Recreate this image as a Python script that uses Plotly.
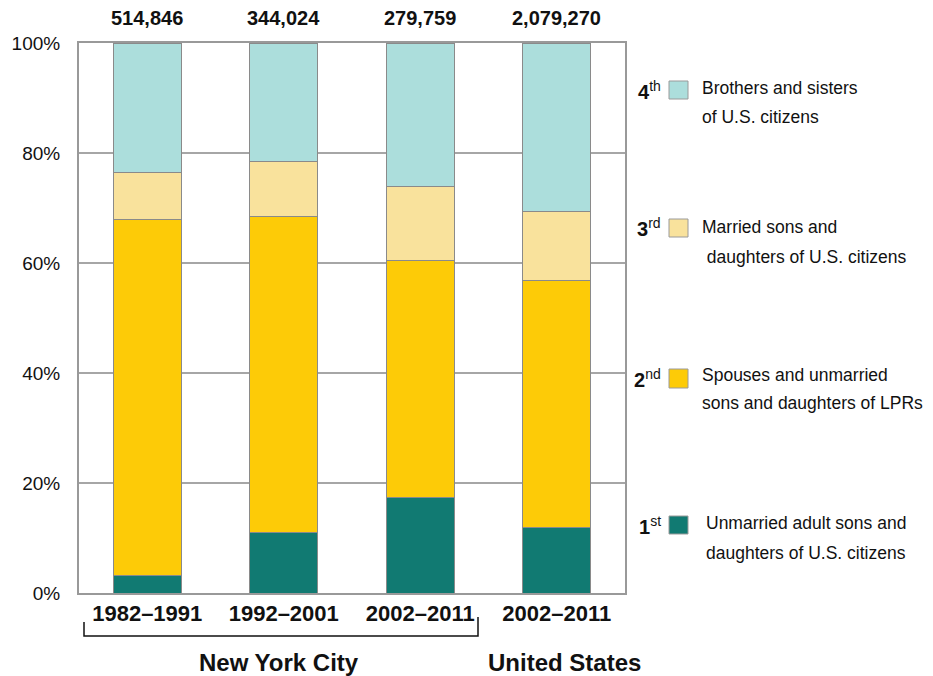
import plotly.graph_objects as go

periods = ["1982–1991", "1992–2001", "2002–2011", "2002–2011"]
totals = ["514,846", "344,024", "279,759", "2,079,270"]
regions = ["New York City", "United States"]

first = [3.1, 11.0, 17.4, 11.9]
second = [64.9, 57.4, 43.0, 45.0]
third = [8.4, 10.1, 13.5, 12.4]
fourth = [23.6, 21.5, 26.1, 30.7]

series_names = ["1st", "2nd", "3rd", "4th"]
ordinal_num = ["1", "2", "3", "4"]
ordinal_suf = ["st", "nd", "rd", "th"]
legend_line1 = ["Unmarried adult sons and", "Spouses and unmarried",
                "Married sons and", "Brothers and sisters"]
legend_line2 = ["daughters of U.S. citizens", "sons and daughters of LPRs",
                " daughters of U.S. citizens", "of U.S. citizens"]
colors = ["#117A72", "#FDCB07", "#F9E29C", "#ACDEDC"]
values = [first, second, third, fourth]
ytick_vals = [0, 20, 40, 60, 80, 100]
ytick_text = ["0%", "20%", "40%", "60%", "80%", "100%"]

FONT = "Liberation Sans, Arial, sans-serif"
xpos = list(range(len(periods)))

fig = go.Figure()
for name, vals, col in zip(series_names, values, colors):
    fig.add_trace(go.Bar(
        x=xpos, y=vals, name=name, width=0.5,
        marker=dict(color=col, line=dict(color="#8a8a8a", width=1)),
        showlegend=False, hoverinfo="y+name",
    ))

# Layout geometry
L, R, T, B = 79, 308, 43, 83
W, H = 933, 676
pw, ph = W - L - R, H - T - B

def px(xp):
    return (xp - L) / pw

def py(yp):
    return (H - B - yp) / ph

fig.update_layout(
    barmode="stack", bargap=0.5,
    width=W, height=H,
    margin=dict(l=L, r=R, t=T, b=B, pad=0),
    paper_bgcolor="white", plot_bgcolor="white",
    font=dict(family=FONT, size=18, color="#111"),
    xaxis=dict(
        range=[-0.5, 3.5], tickvals=xpos, ticktext=periods,
        tickfont=dict(size=22, family=FONT, color="#111", weight="bold"),
        showgrid=False, showline=True, linecolor="#999", linewidth=2, mirror=True,
        ticks="", zeroline=False, ticklabelstandoff=0,
    ),
    yaxis=dict(
        range=[0, 100], tickvals=ytick_vals, ticktext=ytick_text,
        tickfont=dict(size=19, family=FONT, color="#111"),
        showgrid=True, gridcolor="#a6a6a6", gridwidth=2,
        showline=True, linecolor="#999", linewidth=2, mirror=True,
        ticks="", zeroline=False, ticklabelstandoff=13,
    ),
)

# Totals above bars
for i, t in enumerate(totals):
    fig.add_annotation(x=i, y=1, xref="x", yref="paper", text=f"<b>{t}</b>",
                       showarrow=False, yanchor="bottom", yshift=12,
                       font=dict(size=20, family=FONT, color="#111"))

# Region labels and bracket
for xi, reg, xs in zip([1, 3], regions, [-5, 8]):
    fig.add_annotation(x=xi, y=py(662), xref="x", yref="paper", text=f"<b>{reg}</b>",
                       showarrow=False, yanchor="middle", xanchor="center", xshift=xs,
                       font=dict(size=24, family=FONT, color="#111"))
fig.add_shape(type="path", xref="paper", yref="paper",
              path=f"M {px(84)},{py(622)} L {px(84)},{py(636)} L {px(478)},{py(636)} L {px(478)},{py(617)}",
              line=dict(color="#111", width=1.5))

# Custom legend (ordinal, swatch, two text lines)
ord_y = [525, 378, 228, 90]
sw_y = [(516, 534), (369, 388), (219, 237), (81, 99)]
line1_y = [523, 375, 227, 88]
line2_y = [553, 403, 257, 117]
text_x = [707, 703, 703, 703]
for k in range(4):
    fig.add_annotation(x=px(663), y=py(ord_y[k]), xref="paper", yref="paper",
                       text=f"<b>{ordinal_num[k]}</b><sup>{ordinal_suf[k]}</sup>", showarrow=False,
                       xanchor="right", yanchor="middle",
                       font=dict(size=20, family=FONT, color="#111"))
    fig.add_shape(type="rect", xref="paper", yref="paper",
                  x0=px(669), x1=px(688), y0=py(sw_y[k][1]), y1=py(sw_y[k][0]),
                  fillcolor=colors[k], line=dict(color="#9a9a9a", width=1))
    fig.add_annotation(x=px(text_x[k]), y=py(line1_y[k]), xref="paper", yref="paper",
                       text=legend_line1[k], showarrow=False, xanchor="left", yanchor="middle",
                       xshift=-3, font=dict(size=17.5, family=FONT, color="#111"))
    fig.add_annotation(x=px(text_x[k]), y=py(line2_y[k]), xref="paper", yref="paper",
                       text=legend_line2[k], showarrow=False, xanchor="left", yanchor="middle",
                       xshift=-3, font=dict(size=17.5, family=FONT, color="#111"))

fig.write_html("out.html", config={"displayModeBar": False},
               post_script="document.body.style.margin='0';document.body.style.padding='0';")
